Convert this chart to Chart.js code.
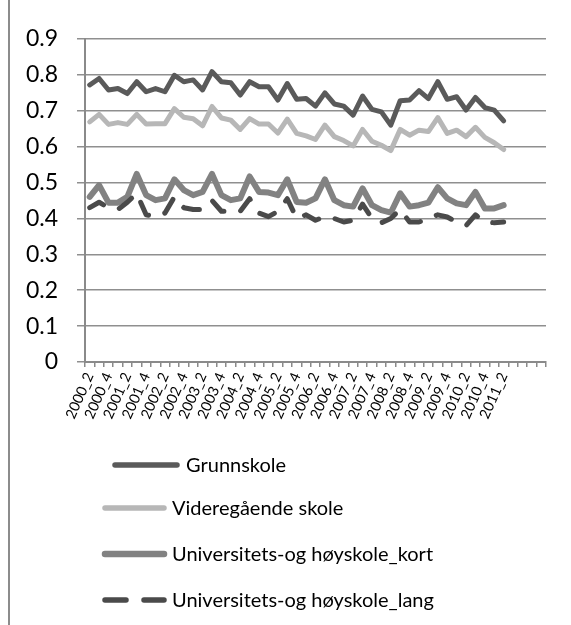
<!DOCTYPE html>
<html>
<head>
<meta charset="utf-8">
<script src="https://cdn.jsdelivr.net/npm/chart.js@4/dist/chart.umd.min.js"></script>
<style>
  html, body { margin: 0; padding: 0; background: #ffffff; }
  #wrap { position: relative; width: 571px; height: 625px; }
  canvas { display: block; }
</style>
</head>
<body>
<div id="wrap"><canvas id="c" width="571" height="625"></canvas></div>
<script>
// ---- data ----
const categories = [
  "2000_2","2000_3","2000_4","2001_1","2001_2","2001_3","2001_4","2002_1",
  "2002_2","2002_3","2002_4","2003_1","2003_2","2003_3","2003_4","2004_1",
  "2004_2","2004_3","2004_4","2005_1","2005_2","2005_3","2005_4","2006_1",
  "2006_2","2006_3","2006_4","2007_1","2007_2","2007_3","2007_4","2008_1",
  "2008_2","2008_3","2008_4","2009_1","2009_2","2009_3","2009_4","2010_1",
  "2010_2","2010_3","2010_4","2011_1","2011_2","","","",""
];
const seriesNames = [
  "Grunnskole",
  "Videregående skole",
  "Universitets-og høyskole_kort",
  "Universitets-og høyskole_lang"
];
const grunnskole = [
  0.772, 0.790, 0.758, 0.762, 0.748, 0.781, 0.753, 0.762, 0.753, 0.799,
  0.781, 0.786, 0.758, 0.809, 0.781, 0.778, 0.744, 0.781, 0.767, 0.767,
  0.730, 0.776, 0.732, 0.734, 0.713, 0.750, 0.719, 0.713, 0.688, 0.741,
  0.704, 0.697, 0.660, 0.728, 0.730, 0.756, 0.734, 0.781, 0.732, 0.739,
  0.702, 0.737, 0.709, 0.702, 0.672
];
const videregaende = [
  0.669, 0.690, 0.662, 0.667, 0.662, 0.690, 0.663, 0.664, 0.664, 0.706,
  0.682, 0.678, 0.658, 0.712, 0.680, 0.674, 0.648, 0.678, 0.663, 0.663,
  0.638, 0.677, 0.637, 0.630, 0.620, 0.660, 0.628, 0.617, 0.602, 0.648,
  0.615, 0.604, 0.589, 0.648, 0.632, 0.646, 0.642, 0.681, 0.637, 0.646,
  0.628, 0.654, 0.626, 0.611, 0.592
];
const uhKort = [
  0.460, 0.493, 0.444, 0.444, 0.460, 0.524, 0.465, 0.451, 0.456, 0.509,
  0.479, 0.465, 0.474, 0.524, 0.465, 0.451, 0.456, 0.517, 0.474, 0.472,
  0.465, 0.509, 0.446, 0.444, 0.456, 0.509, 0.451, 0.437, 0.433, 0.484,
  0.437, 0.423, 0.416, 0.470, 0.433, 0.437, 0.444, 0.487, 0.456, 0.442,
  0.437, 0.474, 0.428, 0.428, 0.437
];
const uhLang = [
  0.430, 0.445, 0.430, 0.425, 0.445, 0.470, 0.410, 0.405, 0.415, 0.460,
  0.430, 0.425, 0.425, 0.450, 0.420, 0.420, 0.420, 0.455, 0.415, 0.405,
  0.420, 0.455, 0.400, 0.410, 0.395, 0.405, 0.400, 0.390, 0.395, 0.440,
  0.400, 0.388, 0.400, 0.425, 0.390, 0.390, 0.400, 0.410, 0.404, 0.390,
  0.380, 0.410, 0.390, 0.388, 0.390
];
const yTicks = [0, 0.1, 0.2, 0.3, 0.4, 0.5, 0.6, 0.7, 0.8, 0.9];

// ---- styles ----
const FONT = "Lato, 'Liberation Sans', sans-serif";
const colors = ["#5a5a5a", "#b7b7b7", "#828282", "#4a4a4a"];
const widths = [5, 5, 6, 5];

const legendLayout = [
  { x1: 112, x2: 180, tx: 186, y: 465 },
  { x1: 102, x2: 167, tx: 172, y: 508 },
  { x1: 102, x2: 167, tx: 172, y: 554 },
  { x1: 102, x2: 167, tx: 172, y: 600 }
];

const legendPlugin = {
  id: 'customLegend',
  beforeDraw(chart) {
    const ctx = chart.ctx;
    ctx.save();
    ctx.strokeStyle = '#8c8c8c';
    ctx.lineWidth = 2;
    ctx.beginPath();
    ctx.moveTo(9, 0);
    ctx.lineTo(9, 625);
    ctx.stroke();
    ctx.restore();
  },
  afterDraw(chart) {
    const ctx = chart.ctx;
    ctx.save();
    chart.data.datasets.forEach((ds, i) => {
      const L = legendLayout[i];
      ctx.strokeStyle = ds.borderColor;
      ctx.lineWidth = ds.borderWidth + 0.5;
      ctx.lineCap = 'round';
      ctx.setLineDash(ds.borderDash && ds.borderDash.length ? [21, 18] : []);
      ctx.beginPath();
      ctx.moveTo(L.x1 + 3, L.y);
      ctx.lineTo(L.x2 - 3, L.y);
      ctx.stroke();
      ctx.setLineDash([]);
      ctx.fillStyle = '#000000';
      ctx.font = "20px " + FONT;
      ctx.textBaseline = 'middle';
      ctx.textAlign = 'left';
      ctx.fillText(ds.label, L.tx, L.y + 1);
    });
    ctx.restore();
  }
};

const datasets = [grunnskole, videregaende, uhKort, uhLang].map((vals, i) => ({
  label: seriesNames[i],
  data: vals,
  borderColor: colors[i],
  backgroundColor: colors[i],
  borderWidth: widths[i],
  borderDash: i === 3 ? [16, 17] : [],
  borderCapStyle: 'round',
  borderJoinStyle: 'round',
  pointRadius: 0,
  pointHoverRadius: 0,
  tension: 0,
  fill: false,
  order: 3 - i
}));

new Chart(document.getElementById('c'), {
  type: 'line',
  data: { labels: categories, datasets: datasets },
  plugins: [legendPlugin],
  options: {
    responsive: false,
    animation: false,
    devicePixelRatio: 1,
    layout: { padding: { left: 0, right: 25, top: 39, bottom: 0 } },
    plugins: { legend: { display: false }, tooltip: { enabled: false } },
    scales: {
      x: {
        type: 'category',
        offset: true,
        afterFit(s) { s.height = 625 - 362; },
        grid: {
          offset: true,
          drawOnChartArea: false,
          drawTicks: true,
          tickLength: 5,
          color: '#8a8a8a',
          lineWidth: 1.5
        },
        border: { display: true, color: '#8a8a8a', width: 2 },
        ticks: {
          autoSkip: false,
          minRotation: 66,
          maxRotation: 66,
          padding: 3,
          color: '#000000',
          font: { family: FONT, size: 14.5 },
          callback(value, index) {
            return index % 2 === 0 ? categories[index] : '';
          }
        }
      },
      y: {
        min: 0,
        max: 0.9,
        afterFit(s) { s.width = 85; },
        afterBuildTicks(s) { s.ticks = yTicks.map(v => ({ value: v })); },
        grid: {
          color: '#8f8f8f',
          lineWidth: 1.5,
          drawTicks: true,
          tickLength: 8
        },
        border: { display: true, color: '#8a8a8a', width: 2 },
        ticks: {
          padding: 19,
          color: '#000000',
          font: { family: FONT, size: 23 },
          callback(v) { return v === 0 ? '0' : Number(v).toFixed(1); }
        }
      }
    }
  }
});
</script>
</body>
</html>
